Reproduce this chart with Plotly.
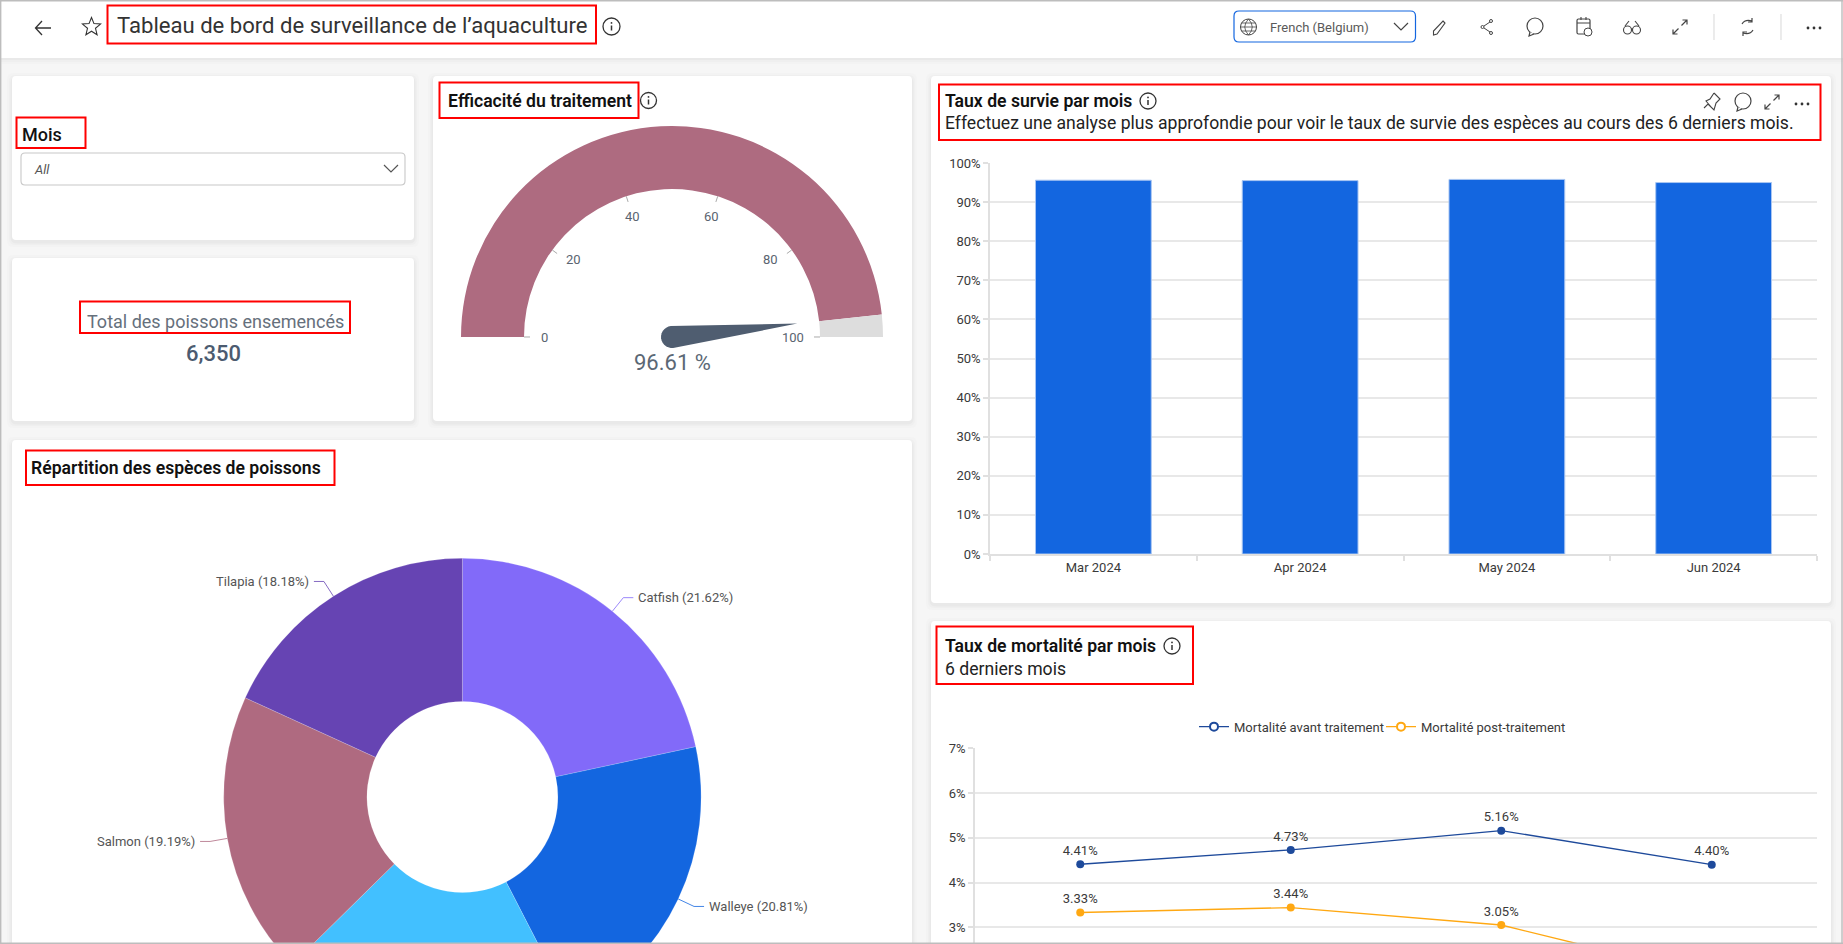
import numpy as np
import plotly.graph_objects as go

# ---------- data ----------
months = ["Mar 2024", "Apr 2024", "May 2024", "Jun 2024"]
survival_pct = [95.6, 95.5, 95.8, 95.0]
mortality_pre = [4.41, 4.73, 5.16, 4.40]
mortality_post = [3.33, 3.44, 3.05, 1.90]   # June point runs below the visible area: estimated
labels_pre = ["4.41%", "4.73%", "5.16%", "4.40%"]
labels_post = ["3.33%", "3.44%", "3.05%", ""]
series_pre = "Mortalité avant traitement"
series_post = "Mortalité post-traitement"
species = ["Catfish", "Walleye", "", "Salmon", "Tilapia"]  # third label lies outside the picture
species_pct = [21.62, 20.81, 20.20, 19.19, 18.18]
species_colors = ["#826AF9", "#1366E0", "#42C0FF", "#AF6A80", "#6644B3"]
efficacy = 96.61
gauge_ticks = [0, 20, 40, 60, 80, 100]
total_fish = "6,350"
filter_value = "All"
language = "French (Belgium)"

T_MAIN = "Tableau de bord de surveillance de l’aquaculture"
T_MOIS = "Mois"
T_TOTAL = "Total des poissons ensemencés"
T_EFF = "Efficacité du traitement"
T_SURV = "Taux de survie par mois"
T_SURV_SUB = "Effectuez une analyse plus approfondie pour voir le taux de survie des espèces au cours des 6 derniers mois."
T_MORT = "Taux de mortalité par mois"
T_MORT_SUB = "6 derniers mois"
T_REP = "Répartition des espèces de poissons"

# ---------- page geometry ----------
W, H = 1843, 1130
FONT = "Roboto"
INK = "#3A3A3A"
shapes, notes = [], []

def px(x): return x / W
def py(y): return 1 - y / H

def path(s, fill=None, line=None, lw=1, layer="above"):
    out, isx = [], True
    for tok in s.split():
        if tok[0].isalpha():
            out.append(tok); isx = True
        else:
            v = float(tok)
            out.append(f"{px(v) if isx else py(v):.6f}")
            isx = not isx
    shapes.append(dict(type="path", path=" ".join(out), xref="paper", yref="paper", layer=layer,
                       fillcolor=fill or "rgba(0,0,0,0)",
                       line=dict(color=line or "rgba(0,0,0,0)", width=lw if line else 0)))

def rrect(x0, y0, x1, y1, r=4, **kw):
    path(f"M {x0+r} {y0} L {x1-r} {y0} Q {x1} {y0} {x1} {y0+r} L {x1} {y1-r} Q {x1} {y1} {x1-r} {y1} "
         f"L {x0+r} {y1} Q {x0} {y1} {x0} {y1-r} L {x0} {y0+r} Q {x0} {y0} {x0+r} {y0} Z", **kw)

def circle(cx, cy, r, fill=None, line=None, lw=1, layer="above"):
    shapes.append(dict(type="circle", xref="paper", yref="paper", layer=layer,
                       x0=px(cx-r), x1=px(cx+r), y0=py(cy+r), y1=py(cy-r),
                       fillcolor=fill or "rgba(0,0,0,0)",
                       line=dict(color=line or "rgba(0,0,0,0)", width=lw if line else 0)))

def text(x, y, s, size=13, color=INK, anchor="left", weight=None, style=None):
    notes.append(dict(xref="paper", yref="paper", x=px(x), y=py(y), text=s, showarrow=False,
                      xanchor=anchor, yanchor="middle", borderpad=0, align=anchor,
                      font=dict(family=FONT, size=size, color=color, weight=weight, style=style)))

def card(x0, y0, x1, y1):
    for k, a in [(5, .010), (3, .016), (1.5, .022)]:
        rrect(x0-k, y0-k+2, x1+k, y1+k+2, r=6, fill=f"rgba(0,0,0,{a})", layer="below")
    rrect(x0, y0, x1, y1, r=4, fill="#ffffff", layer="below")

def red(x0, y0, x1, y1):
    shapes.append(dict(type="rect", xref="paper", yref="paper", layer="above",
                       x0=px(x0), x1=px(x1), y0=py(y1), y1=py(y0),
                       fillcolor="rgba(0,0,0,0)", line=dict(color="#FF0000", width=2)))

def info(cx, cy, r=8, color="#333333"):
    circle(cx, cy, r, line=color, lw=1.3)
    path(f"M {cx} {cy-1} L {cx} {cy+4}", line=color, lw=1.5)
    circle(cx, cy-3.6, 0.9, fill=color)

def chevron(cx, cy, w=7, h=6, color="#555555"):
    path(f"M {cx-w} {cy-h/2} L {cx} {cy+h/2+1} L {cx+w} {cy-h/2}", line=color, lw=1.2)

def dots(cx, cy, color="#333333"):
    for d in (-6, 0, 6):
        circle(cx+d, cy, 1.4, fill=color)

def expand(cx, cy, c="#444444"):
    path(f"M {cx+1.5} {cy-1.5} L {cx+7} {cy-7} M {cx+2.5} {cy-7} L {cx+7} {cy-7} L {cx+7} {cy-2.5}", line=c, lw=1.2)
    path(f"M {cx-1.5} {cy+1.5} L {cx-7} {cy+7} M {cx-2.5} {cy+7} L {cx-7} {cy+7} L {cx-7} {cy+2.5}", line=c, lw=1.2)

def bubble(cx, cy, c="#444444"):
    circle(cx, cy, 8, line=c, lw=1.2)
    path(f"M {cx-5} {cy+6} L {cx-6} {cy+10} L {cx-1} {cy+8}", fill="#ffffff", line=c, lw=1.2)

# page background, header
shapes.append(dict(type="rect", xref="paper", yref="paper", layer="below", x0=0, x1=1, y0=0, y1=1,
                   fillcolor="#F6F6F6", line=dict(width=0)))
for k, a in [(6, .012), (4, .016), (2, .022)]:
    shapes.append(dict(type="rect", xref="paper", yref="paper", layer="below", x0=0, x1=1,
                       y0=py(58+k), y1=1, fillcolor=f"rgba(0,0,0,{a})", line=dict(width=0)))
shapes.append(dict(type="rect", xref="paper", yref="paper", layer="below", x0=0, x1=1,
                   y0=py(58), y1=1, fillcolor="#ffffff", line=dict(width=0)))

# cards
card(12, 76, 414, 240)
card(12, 258, 414, 421)
card(433, 76, 912, 421)
card(12, 440, 912, H + 20)
card(931, 76, 1831, 603)
card(931, 621, 1831, H + 20)

# header content
path("M 51 28 L 36 28 M 42 21 L 35.5 28 L 42 35", line="#333333", lw=1.3)
star_r = np.array([9.5, 4.2] * 5)
star_a = np.deg2rad(np.arange(10) * 36)
star_pts = [f"{91.5+r*np.sin(a):.2f} {27-r*np.cos(a):.2f}" for r, a in zip(star_r, star_a)]
path("M " + " L ".join(star_pts) + " Z", line="#333333", lw=1.1)
text(115.5, 25, T_MAIN, size=22.1, color="#333333", weight=400)
info(611.5, 26.5, r=8.5)
red(107.5, 5.5, 596, 43.5)

rrect(1234, 11, 1415.5, 42, r=5, fill="#ffffff", line="#1366E0", lw=1.2)
circle(1248.5, 27, 8, line="#444444", lw=1)
path("M 1240.5 27 L 1256.5 27 M 1241.5 23 L 1255.5 23 M 1241.5 31 L 1255.5 31", line="#444444", lw=.8)
path("M 1248.5 19 Q 1241 27 1248.5 35 M 1248.5 19 Q 1256 27 1248.5 35", line="#444444", lw=.8)
text(1268.5, 27.5, language, size=13, color="#5A5A5A")
chevron(1401, 26, w=7, h=6, color="#444444")

path("M 1443 21 L 1445 23 L 1437 34 L 1433.5 35 L 1433.5 31 Z", line="#444444", lw=1.1)
circle(1482.5, 27, 1.5, line="#444444", lw=1); circle(1491, 21, 1.5, line="#444444", lw=1); circle(1491, 33, 1.5, line="#444444", lw=1)
path("M 1484 26 L 1490 22 M 1484 28 L 1490 32", line="#444444", lw=1)
bubble(1535, 26)
rrect(1577, 19, 1590, 34, r=1.5, line="#444444", lw=1.2)
path("M 1577 23 L 1590 23 M 1581 17 L 1581 20 M 1586 17 L 1586 20", line="#444444", lw=1.1)
circle(1588, 32, 4, fill="#ffffff", line="#444444", lw=1)
circle(1627.5, 30, 4, line="#444444", lw=1.1); circle(1636.5, 30, 4, line="#444444", lw=1.1)
path("M 1625 26 L 1629 21 M 1639 26 L 1635 21 M 1631 29 L 1633 29", line="#444444", lw=1.1)
expand(1680, 27)
path("M 1714 14 L 1714 40 M 1781 14 L 1781 40", line="#D8D8D8", lw=1)
path("M 1742 24 Q 1745 19 1752 21 M 1753 30 Q 1750 35 1743 33 M 1752 18 L 1752 22 L 1748 22 M 1743 36 L 1743 32 L 1747 32", line="#444444", lw=1.2)
dots(1814, 28)

# filter card
text(20.5, 134.7, T_MOIS, size=18, color="#111111", weight=500)
red(16.5, 117.5, 85.5, 148)
rrect(21, 153, 405, 185, r=4, fill="#ffffff", line="#C8C8C8", lw=1.1)
text(33, 169, filter_value, size=13, color="#555555", style="italic")
chevron(391, 168, w=7, h=6, color="#555555")

# KPI card
text(215, 322, T_TOTAL, size=18, color="#66707C", anchor="center")
text(213, 354, total_fish, size=22, color="#4C5B70", anchor="center", weight=500)
red(80, 301.5, 350, 333)

# gauge card
GX, GY, GR, GRI = 672, 337, 211, 148
text(446.5, 100.7, T_EFF, size=17.6, color="#111111", weight=600)
info(648.5, 100.5)
red(439.5, 82.5, 638.5, 118)
gauge_domain = dict(x=[px(GX-GR), px(GX+GR)], y=[py(GY+GR), py(GY-GR)])
for t in gauge_ticks:
    a = np.pi * (1 - t / 100)
    ca, sa = np.cos(a), np.sin(a)
    path(f"M {GX+GRI*ca:.2f} {GY-GRI*sa:.2f} L {GX+(GRI-6)*ca:.2f} {GY-(GRI-6)*sa:.2f}", line="#AAAAAA", lw=1)
    rl = 127 if 0 < t < 100 else (128 if t == 0 else 121)
    lx, ly = GX + rl*ca, GY - rl*sa
    if t in (20, 80):                    # these two labels sit a little further round the arc
        lx -= 4 * np.sign(ca)
        ly -= 3
    text(lx, ly, str(t), size=13, color="#5A6470", anchor="center")
a = np.pi * (1 - efficacy / 100)
nx, ny = np.cos(a), -np.sin(a)          # needle direction in screen space
tx, ty = -ny, nx
NL, NB = 126, 11
cpts = [(GX+NB*np.cos(b)*(-nx)+NB*np.sin(b)*tx, GY+NB*np.cos(b)*(-ny)+NB*np.sin(b)*ty)
        for b in np.linspace(-np.pi/2, np.pi/2, 15)]
needle = f"M {GX+NL*nx:.2f} {GY+NL*ny:.2f} " + " ".join(f"L {p[0]:.2f} {p[1]:.2f}" for p in cpts) + " Z"
path(needle, fill="#4F5D70")
text(GX, 362, f"{efficacy:.2f} %", size=22, color="#5B6875", anchor="center")

# pie titles and leaders
PX, PY, PR = 462.4, 797, 238.7
text(29.5, 468, T_REP, size=17.6, color="#111111", weight=600)
red(26, 450.5, 334.5, 485)
pie_domain = dict(x=[px(PX-PR), px(PX+PR)], y=[py(PY+PR), py(PY-PR)])
cum = 0
for name, val, col in zip(species, species_pct, species_colors):
    mid = 2 * np.pi * (cum + val / 2) / sum(species_pct)
    cum += val
    if not name:
        continue
    s, c = np.sin(mid), np.cos(mid)
    sign = 1 if s > 0 else -1
    ex, ey = PX + PR*s, PY - PR*c
    kx, ky = PX + (PR+17.5)*s, PY - (PR+17.5)*c
    path(f"M {ex:.2f} {ey:.2f} L {kx:.2f} {ky:.2f} L {kx+10*sign:.2f} {ky:.2f}", line=col, lw=.8)
    text(kx + 14*sign, ky, f"{name} ({val:.2f}%)", size=13, color="#555555",
         anchor="left" if sign > 0 else "right")

# survival card text
text(943.7, 100.7, T_SURV, size=17.6, color="#111111", weight=600)
info(1148, 101)
text(943.7, 123, T_SURV_SUB, size=17.6, color="#222222")
red(939, 84.5, 1820.5, 140)
# pin icon
path("M 1714 93 L 1720 99 L 1716 103 L 1714 110 L 1708 104 L 1704 108 M 1714 93 L 1710 99 L 1706 101 L 1712 108", line="#444444", lw=1.1)
bubble(1743, 101)
expand(1772, 102)
dots(1802, 104)

# mortality card text
text(943.7, 646, T_MORT, size=17.6, color="#111111", weight=600)
info(1172, 646)
text(943.7, 669, T_MORT_SUB, size=17.6, color="#222222")
red(936.5, 626.5, 1193, 684)

# page edge
path(f"M 0.7 0 L 0.7 944 M 0 0.7 L {W} 0.7 M 0 943.3 L {W} 943.3 M 1842 0 L 1842 944", line="#BDBDBD", lw=1.4)

# ---------- traces ----------
GRID = "#E8E8E8"
AX = "#E0E0E0"
TICK = dict(family=FONT, size=13, color=INK)

fig = go.Figure()
fig.add_trace(go.Pie(values=[efficacy, 100 - efficacy, 100], domain=gauge_domain, hole=GRI / GR,
                     rotation=270, sort=False, direction="clockwise", textinfo="none", hoverinfo="skip",
                     showlegend=False,
                     marker=dict(colors=["#AE6B80", "#DDDDDD", "rgba(0,0,0,0)"], line=dict(width=0))))
fig.add_trace(go.Pie(labels=[s or "—" for s in species], values=species_pct, domain=pie_domain, hole=0.4,
                     rotation=0, sort=False, direction="clockwise", textinfo="none", showlegend=False,
                     marker=dict(colors=species_colors, line=dict(color="rgba(255,255,255,.35)", width=.5))))
fig.add_trace(go.Bar(x=months, y=[v / 100 for v in survival_pct], xaxis="x2", yaxis="y2", showlegend=False,
                     marker=dict(color="#1366E0", line=dict(color="#A9C6F2", width=1))))
fig.add_trace(go.Scatter(x=months, y=mortality_pre, xaxis="x3", yaxis="y3", name=series_pre, showlegend=False,
                         mode="lines+markers+text", text=labels_pre,
                         textposition="top center", textfont=dict(family=FONT, size=13, color=INK),
                         line=dict(color="#1E4A9B", width=1.4), marker=dict(color="#1E4A9B", size=8)))
fig.add_trace(go.Scatter(x=months, y=mortality_post, xaxis="x3", yaxis="y3", name=series_post, showlegend=False,
                         mode="lines+markers+text", text=labels_post,
                         textposition="top center", textfont=dict(family=FONT, size=13, color=INK),
                         line=dict(color="#FFA812", width=1.4), marker=dict(color="#FFA812", size=8)))
for nm, col in [(series_pre, "#1E4A9B"), (series_post, "#FFA812")]:
    fig.add_trace(go.Scatter(x=[None], y=[None], xaxis="x3", yaxis="y3", name=nm, mode="lines+markers",
                             line=dict(color=col, width=1.4),
                             marker=dict(color="#ffffff", size=8, line=dict(color=col, width=2))))

BAR_T, BAR_B, BAR_L, BAR_R = 163, 554, 990, 1817
LIN_T, LIN_L, LIN_R = 748.3, 975, 1817
LIN_STEP = 44.75
LIN_B = 946                                # the chart continues below the photographed window
LIN_MIN = 7 - (LIN_B - LIN_T) / LIN_STEP

common = dict(tickfont=TICK, showline=True, linecolor=AX, linewidth=1.5, ticks="outside", ticklen=5,
              tickcolor=AX, tickwidth=1.5)
fig.update_layout(
    width=W, height=H, autosize=False,
    margin=dict(l=0, r=0, t=0, b=0, pad=0, autoexpand=False),
    paper_bgcolor="#F6F6F6", plot_bgcolor="rgba(0,0,0,0)",
    font=dict(family=FONT, size=13, color=INK),
    shapes=shapes, annotations=notes,
    bargap=0.44,
    xaxis2=dict(domain=[px(BAR_L), px(BAR_R)], anchor="y2", type="category", tickson="boundaries",
                ticklabelstandoff=1, **common),
    yaxis2=dict(domain=[py(BAR_B), py(BAR_T)], anchor="x2", range=[0, 1], tickformat=".0%", dtick=0.1,
                gridcolor=GRID, gridwidth=1.5, zeroline=False, **common),
    xaxis3=dict(domain=[px(LIN_L), px(LIN_R)], anchor="y3", type="category", categoryorder="array",
                categoryarray=months, range=[-0.5, 3.5], tickson="boundaries", showticklabels=False, ticks="",
                showline=False),
    yaxis3=dict(domain=[py(LIN_B), py(LIN_T)], anchor="x3", range=[LIN_MIN, 7], dtick=1, tick0=0, ticksuffix="%",
                gridcolor=GRID, gridwidth=1.5, zeroline=False, **common),
    legend=dict(orientation="h", x=px(1194), y=py(726.7), xanchor="left", yanchor="middle",
                bgcolor="rgba(0,0,0,0)", itemwidth=30, entrywidth=142, entrywidthmode="pixels",
                font=dict(family=FONT, size=13, color=INK)),
    hovermode="closest",
)

fig.write_html("out.html", config=dict(displayModeBar=False),
               post_script="document.documentElement.style.overflow='hidden';"
                           "document.body.style.overflow='hidden';document.body.style.margin='0';")
